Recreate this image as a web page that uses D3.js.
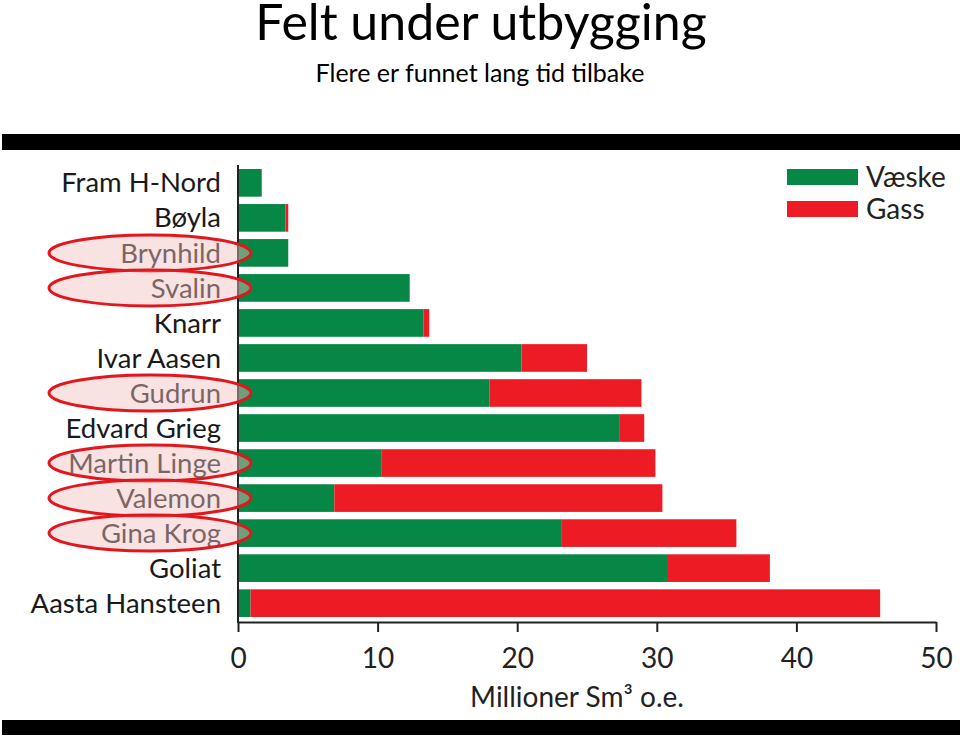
<!DOCTYPE html>
<html><head><meta charset="utf-8">
<script src="https://cdn.jsdelivr.net/npm/d3@7"></script>
<style>body{margin:0;background:#fff}svg{display:block}</style>
</head><body>
<script>
const fields = ["Fram H-Nord","Bøyla","Brynhild","Svalin","Knarr","Ivar Aasen","Gudrun","Edvard Grieg","Martin Linge","Valemon","Gina Krog","Goliat","Aasta Hansteen"];
const liquid = [1.7,3.4,3.6,12.3,13.3,20.3,18.0,27.3,10.3,6.9,23.2,30.8,0.9];
const gas    = [0,0.2,0,0,0.4,4.7,10.9,1.8,19.6,23.5,12.5,7.3,45.1];
const highlighted = ["Brynhild","Svalin","Gudrun","Martin Linge","Valemon","Gina Krog"];
const seriesNames = ["Væske","Gass"];
const xTicks = [0,10,20,30,40,50];
const title = "Felt under utbygging";
const subtitle = "Flere er funnet lang tid tilbake";
const xTitle = "Millioner Sm³ o.e.";

const W = 960, H = 737;
const GREEN = "#078745", RED = "#ed1c24";
const svg = d3.select("body").append("svg").attr("width", W).attr("height", H);
const font = "Lato, 'Open Sans', sans-serif";

svg.append("text").attr("x", 481).attr("y", 40).attr("text-anchor","middle")
  .style("font-family",font).style("font-size","50px").text(title);
svg.append("text").attr("x", 480).attr("y", 82).attr("text-anchor","middle")
  .style("font-family",font).style("font-size","25px").text(subtitle);

svg.append("rect").attr("x",2).attr("y",134).attr("width",958).attr("height",16).attr("fill","#000");
svg.append("rect").attr("x",2).attr("y",720).attr("width",958).attr("height",15).attr("fill","#000");

const x = d3.scaleLinear().domain([0,50]).range([238,936]);
const y = d3.scaleBand().domain(fields).range([165.5,620.5]).paddingInner(0.21).paddingOuter(0.1);

const data = fields.map((f,i)=>({field:f, liquid:liquid[i], gas:gas[i]}));
const stack = d3.stack().keys(["liquid","gas"])(data);
const colors = [GREEN, RED];

svg.append("g").selectAll("g").data(stack).join("g").attr("fill",(d,i)=>colors[i])
  .selectAll("rect").data(d=>d).join("rect")
  .attr("x", d=>x(d[0])).attr("width", d=>Math.max(0, x(d[1])-x(d[0])))
  .attr("y", d=>y(d.data.field)).attr("height", y.bandwidth());

// x axis
const xAxis = svg.append("g").attr("transform","translate(0,622)")
  .call(d3.axisBottom(x).tickValues(xTicks).tickSize(10).tickPadding(16).tickSizeOuter(0));
xAxis.select(".domain").attr("stroke","#222").attr("stroke-width",2);
xAxis.selectAll(".tick line").attr("stroke","#222").attr("stroke-width",2);
xAxis.selectAll(".tick text").style("font-family",font).style("font-size","28px").attr("fill","#222");

// y axis line
svg.append("line").attr("x1",238).attr("x2",238).attr("y1",165).attr("y2",623)
  .attr("stroke","#222").attr("stroke-width",2);

// y labels
svg.append("g").selectAll("text").data(fields).join("text")
  .attr("x", 221).attr("y", d=>y(d)+y.bandwidth()/2).attr("dy","0.35em")
  .attr("text-anchor","end").style("font-family",font).style("font-size","27.5px").attr("fill","#1a1a1a")
  .text(d=>d);

// highlight ellipses
svg.append("g").selectAll("ellipse").data(highlighted).join("ellipse")
  .attr("cx",150).attr("cy", d=>y(d)+y.bandwidth()/2).attr("rx",101).attr("ry",18)
  .attr("fill","rgba(240,190,190,0.45)").attr("stroke","#e2161d").attr("stroke-width",3);

svg.append("text").attr("x", 577).attr("y", 697).attr("dy","0.35em").attr("text-anchor","middle")
  .style("font-family",font).style("font-size","28px").attr("fill","#222").text(xTitle);

// legend
const lg = svg.append("g");
seriesNames.forEach((s,i)=>{
  lg.append("rect").attr("x",787).attr("y",169+i*32).attr("width",71).attr("height",16).attr("fill",colors[i]);
  lg.append("text").attr("x",866).attr("y",177+i*32).attr("dy","0.35em")
    .style("font-family",font).style("font-size","28px").attr("fill","#222").text(s);
});
</script>
</body></html>
